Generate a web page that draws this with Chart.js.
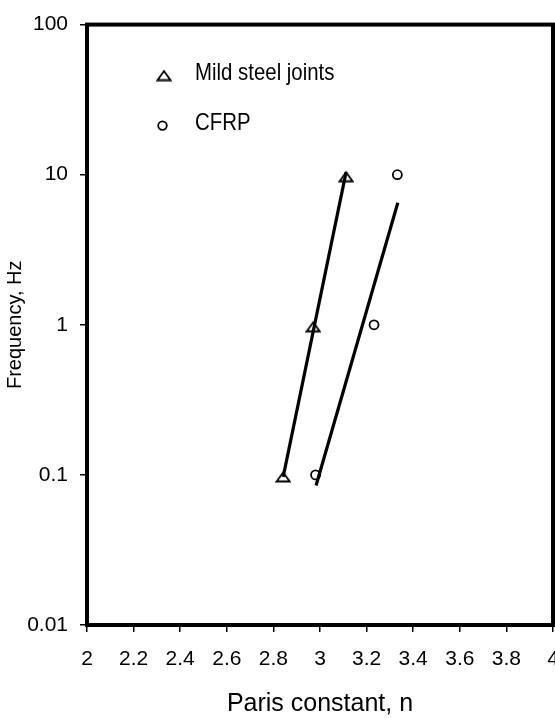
<!DOCTYPE html>
<html>
<head>
<meta charset="utf-8">
<title>Frequency vs Paris constant</title>
<script src="https://cdn.jsdelivr.net/npm/chart.js@4.4.1/dist/chart.umd.min.js"></script>
<style>
  html, body { margin: 0; padding: 0; background: #fff; overflow: hidden; }
  #wrap { position: relative; width: 580px; height: 718px; }
</style>
</head>
<body>
<div id="wrap"><canvas id="parisChart"></canvas></div>
<script>
// test results: Paris constant n against loading frequency
const steelN = [2.842, 2.971, 3.112];
const steelFreq = [0.1, 1, 10];
const cfrpN = [2.981, 3.232, 3.332];
const cfrpFreq = [0.1, 1, 10];

// trend line end points
const steelFitN = [2.842, 3.112];
const steelFitFreq = [0.097, 10.4];
const cfrpFitN = [2.983, 3.334];
const cfrpFitFreq = [0.085, 6.5];

const xTicks = [2, 2.2, 2.4, 2.6, 2.8, 3, 3.2, 3.4, 3.6, 3.8, 4];
const yTicks = [0.01, 0.1, 1, 10, 100];

const legendLabels = ["Mild steel joints", "CFRP"];

const FONT = "'Liberation Sans', Arial, Helvetica, sans-serif";
Chart.defaults.font.family = FONT;
Chart.defaults.color = "#000";

function toPoints(xs, ys) {
  return xs.map((x, i) => ({ x: x, y: ys[i] }));
}

// hollow, slightly flattened triangle marker
function makeTriangle() {
  const c = document.createElement("canvas");
  c.width = 16;
  c.height = 16;
  const g = c.getContext("2d");
  g.strokeStyle = "#000";
  g.lineWidth = 1.8;
  g.beginPath();
  g.moveTo(1.5, 14.5);
  g.lineTo(8, 5.5);
  g.lineTo(14.5, 14.5);
  g.closePath();
  g.stroke();
  return c;
}
const triangleMarker = makeTriangle();

// thick box round the plot area
const plotFrame = {
  id: "plotFrame",
  beforeDatasetsDraw(chart) {
    const { ctx, chartArea: a } = chart;
    ctx.save();
    ctx.strokeStyle = "#000";
    ctx.lineWidth = 4;
    ctx.strokeRect(a.left, a.top, a.right - a.left, a.bottom - a.top);
    ctx.restore();
  }
};

// key drawn inside the plot, top left
const boxLegend = {
  id: "boxLegend",
  afterDraw(chart) {
    const { ctx, chartArea: a } = chart;
    const markerX = a.left + 77;
    const textX = a.left + 108;
    legendLabels.forEach((label, i) => {
      const cy = a.top + 51 + i * 50;
      ctx.save();
      if (i === 0) {
        ctx.drawImage(triangleMarker, markerX - 8, cy - 10);
      } else {
        ctx.strokeStyle = "#000";
        ctx.lineWidth = 1.8;
        ctx.beginPath();
        ctx.arc(markerX - 1.5, cy, 4.3, 0, Math.PI * 2);
        ctx.stroke();
      }
      ctx.translate(textX, cy + 4.5);
      ctx.scale(0.85, 1);
      ctx.fillStyle = "#000";
      ctx.font = "24px " + FONT;
      ctx.textBaseline = "alphabetic";
      ctx.fillText(label, 0, 0);
      ctx.restore();
    });
  }
};

const ctx = document.getElementById("parisChart").getContext("2d");

new Chart(ctx, {
  type: "scatter",
  data: {
    datasets: [
      {
        label: "Mild steel joints",
        data: toPoints(steelN, steelFreq),
        pointStyle: triangleMarker,
        pointRadius: 7,
        showLine: false
      },
      {
        label: "CFRP",
        data: toPoints(cfrpN, cfrpFreq),
        pointStyle: "circle",
        pointRadius: 4.5,
        borderWidth: 1.8,
        borderColor: "#000",
        backgroundColor: "rgba(0,0,0,0)",
        showLine: false
      },
      {
        label: "Mild steel fit",
        data: toPoints(steelFitN, steelFitFreq),
        showLine: true,
        pointRadius: 0,
        borderWidth: 3.2,
        borderColor: "#000"
      },
      {
        label: "CFRP fit",
        data: toPoints(cfrpFitN, cfrpFitFreq),
        showLine: true,
        pointRadius: 0,
        borderWidth: 3.2,
        borderColor: "#000"
      }
    ]
  },
  options: {
    responsive: true,
    maintainAspectRatio: false,
    animation: false,
    layout: { padding: { left: 0, top: 21, right: 27, bottom: 0 } },
    plugins: {
      legend: { display: false },
      tooltip: { enabled: false }
    },
    scales: {
      x: {
        type: "linear",
        min: 2,
        max: 4,
        afterBuildTicks: (scale) => { scale.ticks = xTicks.map(v => ({ value: v })); },
        afterFit: (scale) => { scale.height = 93; },
        border: { display: false },
        grid: { drawOnChartArea: false, tickLength: 7, color: "#000", lineWidth: 1.5 },
        ticks: {
          autoSkip: false,
          maxRotation: 0,
          padding: 15,
          font: { size: 21 },
          callback: (v) => String(v)
        },
        title: {
          display: true,
          text: "Paris constant, n",
          font: { size: 25, lineHeight: 1 },
          padding: { top: 0, bottom: 1.5 }
        }
      },
      y: {
        type: "logarithmic",
        min: 0.01,
        max: 100,
        afterBuildTicks: (scale) => { scale.ticks = yTicks.map(v => ({ value: v })); },
        afterFit: (scale) => { scale.width = 87; },
        border: { display: false },
        grid: { drawOnChartArea: false, tickLength: 7, color: "#000", lineWidth: 1.5 },
        ticks: {
          autoSkip: false,
          padding: 12,
          font: { size: 21 },
          callback: (v) => String(v)
        },
        title: {
          display: true,
          text: "Frequency, Hz",
          font: { size: 20 },
          padding: { top: 3, bottom: 0 }
        }
      }
    }
  },
  plugins: [plotFrame, boxLegend]
});
</script>
</body>
</html>
